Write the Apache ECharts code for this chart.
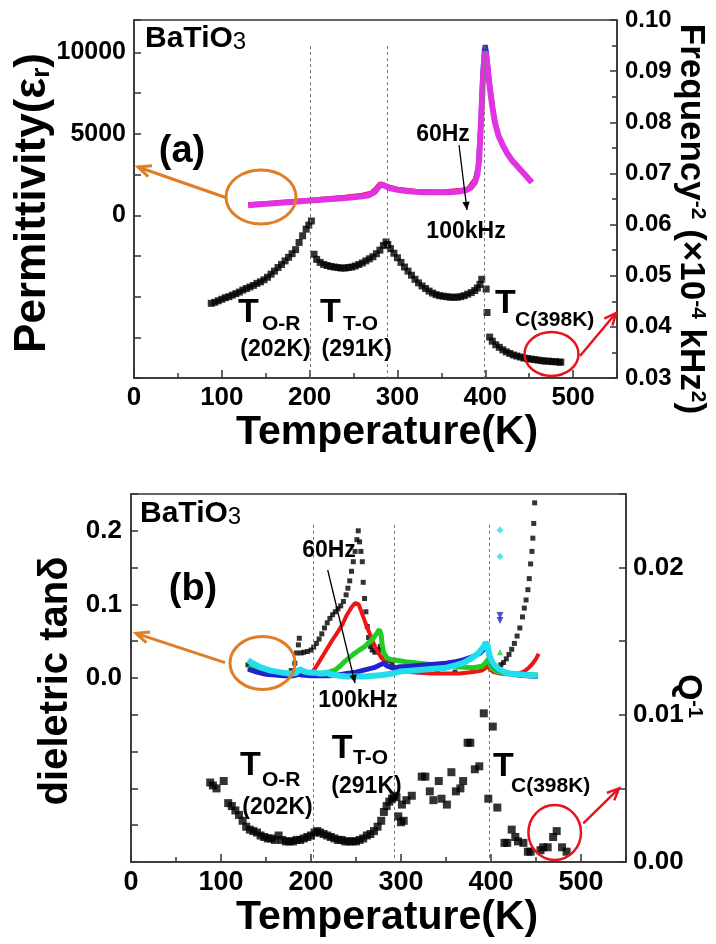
<!DOCTYPE html>
<html><head><meta charset="utf-8">
<script src="https://cdn.jsdelivr.net/npm/echarts@6/dist/echarts.min.js"></script>
<style>html,body{margin:0;padding:0;background:#fff}#c{width:716px;height:944px}</style>
</head><body><div id="c"></div>
<script>
const FONT = 'Liberation Sans, Arial, Helvetica, sans-serif';

// ---------- panel (a) data ----------
const permRed = [[130,640],[160,760],[200,930],[220,1010],[240,1110],[260,1230],[270,1350],[276,1650],[280,1920],[284,1880],[290,1740],[300,1600],[320,1470],[350,1430],[380,1570],[390,2300]];
const permBlue = [[388,2000],[392,3000],[395,5800],[397,8600],[399,10200],[400,10450],[401,10150],[403,9100],[405,8000],[408,6800]];
const permMagenta = [[130,620],[140,660],[150,700],[160,740],[170,780],[180,820],[190,860],[200,900],[210,940],[220,980],[230,1020],[240,1060],[250,1110],[260,1170],[268,1250],[274,1420],[278,1700],[281,1900],[284,1850],[288,1750],[292,1650],[300,1560],[310,1490],[320,1450],[330,1420],[340,1410],[350,1410],[360,1420],[370,1460],[378,1550],[384,1720],[388,2000],[391,2500],[393,3400],[395,5500],[397,8000],[399,9800],[400,10050],[401,9800],[403,8900],[405,7900],[408,6700],[411,5700],[415,4900],[420,4300],[425,3800],[430,3400],[435,3100],[440,2800],[445,2500],[450,2200],[453,2000]];
const freqInvSq = [
 [88,0.0446],[92,0.0448],[96,0.0451],[100,0.0454],[104,0.0457],[108,0.0459],[112,0.0462],[116,0.0465],[120,0.0468],[124,0.0472],[128,0.0475],[132,0.0478],[136,0.0481],[140,0.0485],[144,0.0488],[148,0.0492],[152,0.0497],[156,0.0503],[160,0.0509],[164,0.0516],[168,0.0522],[172,0.0529],[176,0.0536],[180,0.0543],[184,0.0551],[188,0.0565],[192,0.0578],[196,0.0591],[199,0.0599],[202,0.0607],
 [205,0.0542],[208,0.0532],[212,0.0526],[216,0.0522],[220,0.0520],[224,0.0518],[228,0.0517],[232,0.0516],[236,0.0515],[240,0.0515],[244,0.0516],[248,0.0517],[252,0.0519],[256,0.0522],[260,0.0525],[264,0.0529],[268,0.0533],[272,0.0537],[276,0.0543],[280,0.0550],[284,0.0559],[287,0.0566],
 [289,0.0561],[292,0.0553],[296,0.0544],[300,0.0535],[304,0.0526],[308,0.0517],[312,0.0509],[316,0.0501],[320,0.0493],[324,0.0486],[328,0.0480],[332,0.0475],[336,0.0470],[340,0.0466],[344,0.0463],[348,0.0461],[352,0.0460],[356,0.0459],[360,0.0458],[364,0.0458],[368,0.0458],[372,0.0459],[376,0.0461],[380,0.0464],[384,0.0467],[388,0.0471],[391,0.0476],[394,0.0483],[396,0.0493],
 [401,0.0474],[402,0.0428],[405,0.0380],[408,0.0372],[412,0.0365],[416,0.0360],[420,0.0355],[424,0.0351],[428,0.0348],[432,0.0345],[436,0.0343],[440,0.0341],[444,0.0339],[448,0.0338],[452,0.0337],[456,0.0336],[460,0.0335],[464,0.0334],[468,0.0333],[472,0.0333],[476,0.0332],[480,0.0332],[484,0.0331],[486,0.0331]
];
const linesTopT = [201, 288, 398.5];

// ---------- panel (b) data ----------
const tanBlack = [[130,0.018],[140,0.012],[150,0.008],[160,0.006],[170,0.006],[178,0.010],[182,0.020],[184,0.034],[186,0.045],[187,0.054],[189,0.034],[192,0.035],[196,0.036],[200,0.038],[203,0.042],[206,0.047],[209,0.053],[212,0.060],[215,0.068],[218,0.075],[221,0.081],[224,0.086],[227,0.090],[230,0.094],[233,0.098],[236,0.104],[239,0.113],[241,0.122],[243,0.132],[245,0.145],[247,0.158],[249,0.172],[251,0.188],[252.5,0.200],[254,0.185],[255.5,0.172],[257,0.158],[258,0.130],[259.5,0.108],[261,0.090],[262.5,0.070],[264,0.055],[266,0.043],[268,0.038],[271,0.035],[274,0.038],[277,0.043],[279,0.038],[282,0.030],[286,0.024],[290,0.020],[300,0.015],[320,0.010],[340,0.008],[360,0.008],[380,0.010],[395,0.020],[400,0.012],[405,0.012],[408,0.014],[411,0.018],[414,0.021],[417,0.026],[420,0.032],[423,0.039],[426,0.047],[429,0.057],[432,0.068],[435,0.083],[437,0.095],[439,0.106],[441,0.120],[442.5,0.135],[444,0.155],[445.5,0.172],[446.5,0.190],[447.5,0.210],[448.5,0.238]];
const tanRed = [[130,0.014],[140,0.009],[150,0.006],[160,0.004],[170,0.004],[180,0.004],[190,0.004],[200,0.006],[205,0.014],[210,0.024],[215,0.034],[220,0.044],[225,0.054],[230,0.063],[235,0.073],[240,0.086],[245,0.096],[249,0.102],[253,0.100],[256,0.090],[259,0.080],[262,0.070],[266,0.058],[270,0.046],[274,0.036],[278,0.028],[282,0.022],[286,0.016],[292,0.012],[300,0.010],[310,0.008],[320,0.007],[335,0.006],[350,0.006],[365,0.006],[380,0.008],[390,0.010],[395,0.014],[397,0.018],[399,0.012],[403,0.008],[410,0.006],[420,0.005],[430,0.006],[437,0.009],[442,0.014],[446,0.019],[450,0.026],[453,0.033]];
const tanGreen = [[130,0.015],[140,0.010],[150,0.007],[160,0.005],[170,0.004],[180,0.004],[190,0.005],[200,0.005],[210,0.006],[220,0.008],[227,0.011],[233,0.017],[238,0.023],[244,0.029],[249,0.034],[255,0.039],[260,0.043],[264,0.048],[268,0.052],[271,0.057],[274,0.062],[276,0.066],[278,0.058],[279,0.045],[281,0.034],[284,0.028],[288,0.025],[295,0.024],[305,0.022],[320,0.020],[335,0.018],[350,0.017],[365,0.015],[380,0.014],[390,0.016],[395,0.022],[397,0.026],[399,0.018],[402,0.012],[408,0.008],[420,0.006],[435,0.005],[452,0.004]];
const tanBlue = [[130,0.012],[140,0.008],[150,0.005],[160,0.004],[170,0.003],[180,0.003],[186,0.005],[190,0.004],[200,0.003],[210,0.003],[220,0.003],[230,0.004],[240,0.006],[250,0.008],[260,0.011],[270,0.014],[277,0.018],[281,0.020],[285,0.016],[290,0.014],[300,0.015],[310,0.016],[320,0.017],[330,0.018],[340,0.019],[350,0.020],[360,0.022],[370,0.025],[380,0.029],[388,0.034],[393,0.040],[396,0.043],[398,0.030],[401,0.020],[405,0.014],[410,0.010],[420,0.006],[430,0.004],[440,0.003],[452,0.002]];
const tanCyan = [[130,0.024],[135,0.020],[140,0.017],[145,0.014],[150,0.012],[155,0.010],[160,0.009],[165,0.008],[170,0.007],[175,0.006],[180,0.006],[184,0.007],[187,0.012],[190,0.010],[195,0.008],[200,0.007],[205,0.007],[210,0.006],[215,0.006],[218,0.008],[221,0.005],[226,0.004],[232,0.003],[240,0.002],[250,0.002],[260,0.002],[270,0.003],[280,0.004],[290,0.006],[300,0.009],[310,0.010],[320,0.011],[330,0.012],[340,0.013],[350,0.014],[360,0.017],[370,0.021],[380,0.028],[386,0.034],[391,0.041],[394,0.048],[396,0.045],[398,0.032],[401,0.022],[405,0.016],[410,0.011],[415,0.008],[420,0.006],[430,0.005],[440,0.004],[452,0.003]];
const outGreen = [[410,0.035]];
const outBlue = [[410,0.085],[410,0.078]];
const outCyan = [[410,0.201],[410,0.165]];
const qInv = [[88,0.0054],[91,0.0052],[95,0.0050],[103,0.0055],[108,0.0040],[112,0.0038],[116,0.0035],[120,0.0032],[124,0.0028],[128,0.0024],[132,0.0022],[136,0.0021],[140,0.0020],[144,0.0018],[148,0.0017],[152,0.0016],[156,0.0016],[160,0.0015],[164,0.0018],[168,0.0015],[172,0.0014],[176,0.0014],[180,0.0014],[184,0.0015],[188,0.0015],[192,0.0016],[196,0.0017],[200,0.0018],[204,0.0020],[207,0.0021],[210,0.0020],[214,0.0019],[218,0.0018],[222,0.0017],[226,0.0016],[230,0.0015],[234,0.0015],[238,0.0014],[242,0.0014],[246,0.0014],[250,0.0014],[254,0.0015],[258,0.0016],[262,0.0018],[266,0.0019],[270,0.0021],[274,0.0024],[278,0.0028],[281,0.0034],[284,0.0038],[287,0.0041],[290,0.0043],[292,0.0045],[295,0.0044],[297,0.0031],[300,0.0027],[301,0.0039],[303,0.0028],[306,0.0042],[312,0.0045],[323,0.0058],[327,0.0058],[332,0.0048],[336,0.0042],[342,0.0055],[345,0.0043],[351,0.0039],[356,0.0061],[361,0.0048],[366,0.0050],[369,0.0055],[374,0.0081],[377,0.0081],[382,0.0063],[387,0.0065],[392,0.0101],[397,0.0043],[402,0.0092],[407,0.0037],[415,0.0013],[418,0.0013],[423,0.0022],[427,0.0017],[430,0.0014],[436,0.0013],[441,0.0007],[444,0.0007],[455,0.0008],[458,0.0010],[463,0.0010],[469,0.0017],[473,0.0021],[479,0.0010],[484,0.0007]];
const linesBotT = [202, 292, 398.5];

// ---------- helpers ----------
const AX = '#333';
function xAx(grid, fs, margin, nameGap, pad) {
  return {gridIndex: grid, type: 'value', min: 0, max: 550, interval: 100,
    name: 'Temperature(K)', nameLocation: 'middle', nameGap: nameGap,
    nameTextStyle: {fontFamily: FONT, fontWeight: 'bold', fontSize: 41, color: '#000', padding: [0, 0, 0, pad]},
    axisLine: {onZero: false, lineStyle: {color: AX, width: 1.5}},
    axisTick: {inside: true, length: 8, lineStyle: {color: AX, width: 1.5}},
    minorTick: {show: true, splitNumber: 2, length: 5, lineStyle: {color: AX, width: 1.5}},
    splitLine: {show: false},
    axisLabel: {fontFamily: FONT, fontWeight: 'bold', fontSize: fs, color: '#000', margin: margin,
      formatter: v => (v % 100 === 0 && v <= 500) ? String(v) : ''}};
}
function yAx(grid, pos, min, max, interval, fs, margin, fmt, minor) {
  return {gridIndex: grid, type: 'value', position: pos, min: min, max: max, interval: interval,
    axisLine: {show: true, onZero: false, lineStyle: {color: AX, width: 1.5}},
    axisTick: {show: true, inside: true, length: 7, lineStyle: {color: AX, width: 1.5}},
    minorTick: {show: !!minor, splitNumber: 2, length: 5, lineStyle: {color: AX, width: 1.5}},
    splitLine: {show: false},
    axisLabel: {fontFamily: FONT, fontWeight: 'bold', fontSize: fs, color: '#000', margin: margin, formatter: fmt}};
}
function near(a, b) { return Math.abs(a - b) < 1e-9; }
function ellipse(cx, cy, rx, ry, color, w) {
  return {type: 'ellipse', shape: {cx: cx, cy: cy, rx: rx, ry: ry}, style: {fill: 'none', stroke: color, lineWidth: w}, z: 100};
}
function arrow(x1, y1, x2, y2, color, w, head, filled) {
  const a = Math.atan2(y2 - y1, x2 - x1), s = 0.42;
  const p1 = [x2 - head * Math.cos(a - s), y2 - head * Math.sin(a - s)];
  const p2 = [x2 - head * Math.cos(a + s), y2 - head * Math.sin(a + s)];
  const els = [{type: 'line', shape: {x1: x1, y1: y1, x2: x2, y2: y2}, style: {stroke: color, lineWidth: w}, z: 100}];
  if (filled) els.push({type: 'polygon', shape: {points: [[x2, y2], p1, p2]}, style: {fill: color}, z: 100});
  else els.push({type: 'polyline', shape: {points: [p1, [x2, y2], p2]}, style: {stroke: color, lineWidth: w, fill: 'none'}, z: 100});
  return els;
}
function txt(x, y, s, fs, align, weight) {
  return {type: 'text', x: x, y: y, z: 100, style: {text: s, fontFamily: FONT, fontWeight: weight || 'bold', fontSize: fs, fill: '#000', align: align || 'center', verticalAlign: 'middle'}};
}
function rich(x, y, rot, s, r) {
  return {type: 'text', x: x, y: y, rotation: rot, z: 100, style: {text: s, rich: r, align: 'center', verticalAlign: 'middle', fontFamily: FONT, fill: '#000'}};
}
function rs(fs, va, weight) { return {fontFamily: FONT, fontWeight: weight || 'bold', fontSize: fs, lineHeight: fs, fill: '#000', verticalAlign: va || 'middle'}; }
function vlines(ts, yTop, yBot) {
  return {silent: true, symbol: ['none', 'none'], label: {show: false},
    lineStyle: {type: [3, 3], color: '#777', width: 1},
    data: ts.map(t => [{coord: [t, yTop]}, {coord: [t, yBot]}])};
}

const chart = echarts.init(document.getElementById('c'));
const lineS = (xi, yi, data, color, w, z) => ({type: 'line', xAxisIndex: xi, yAxisIndex: yi, data: data, symbol: 'none', lineStyle: {color: color, width: w}, z: z || 2});

const graphics = [].concat(
  // panel a
  [rich(145, 39, 0, '{m|BaTiO}{s|3}', {m: rs(30, 'middle'), s: rs(24, 'bottom', 'normal')})].map(e => (e.style.align = 'left', e)),
  [txt(182, 152, '(a)', 38)],
  [ellipse(261, 197, 35, 27, '#E07E25', 3)],
  arrow(227, 198, 138, 167, '#E07E25', 3, 14, false),
  [ellipse(551.5, 354, 27, 22, '#E8141B', 2.5)],
  arrow(580, 356, 616, 313, '#E8141B', 2.5, 13, false),
  [txt(443, 135, '60Hz', 23), txt(466, 232, '100kHz', 23)],
  arrow(459, 145, 467, 210, '#000', 1.3, 9, true),
  [txt(238, 313, 'T', 34, 'left'), txt(262, 324, 'O-R', 21, 'left'), txt(275.5, 350, '(202K)', 23)],
  [txt(320, 313, 'T', 34, 'left'), txt(343, 324, 'T-O', 21, 'left'), txt(356.7, 350, '(291K)', 23)],
  [txt(495, 304, 'T', 34, 'left'), txt(515, 320, 'C(398K)', 21, 'left')],
  [rich(33, 203, Math.PI / 2, '{m|Permittivity(ε}{s|r}{m|)}', {m: rs(44), s: rs(26, 'bottom')})],
  [rich(691, 219, -Math.PI / 2, '{m|Frequency}{s|-2}{m| (×10}{s|-4}{m| kHz}{s|2}{m|)}', {m: rs(35), s: rs(21, 'top')})],
  // panel b
  [rich(140, 514, 0, '{m|BaTiO}{s|3}', {m: rs(30, 'middle'), s: rs(24, 'bottom', 'normal')})].map(e => (e.style.align = 'left', e)),
  [txt(193, 590, '(b)', 38)],
  [ellipse(262.5, 663, 32.5, 26.5, '#E07E25', 3)],
  arrow(225, 662.7, 136, 633.3, '#E07E25', 3, 14, false),
  [ellipse(554.7, 832.5, 26.3, 27.5, '#E8141B', 2.5)],
  arrow(583.3, 823.3, 619, 788.3, '#E8141B', 2.5, 13, false),
  [txt(329, 551, '60Hz', 23), txt(358, 700.5, '100kHz', 23)],
  arrow(327.7, 570, 355, 683, '#000', 1.3, 9, true),
  [txt(240, 766, 'T', 34, 'left'), txt(262, 780, 'O-R', 21, 'left'), txt(277.5, 808, '(202K)', 23)],
  [txt(331.7, 749, 'T', 34, 'left'), txt(353, 758, 'T-O', 21, 'left'), txt(366.5, 786.7, '(291K)', 23)],
  [txt(493, 767, 'T', 34, 'left'), txt(511, 786, 'C(398K)', 21, 'left')],
  [rich(56, 681, Math.PI / 2, '{m|dieletric tanδ}', {m: rs(40)})],
  [rich(688, 696, -Math.PI / 2, '{m|Q}{s|-1}', {m: rs(34), s: rs(20, 'top')})]
);

chart.setOption({
  animation: false,
  backgroundColor: '#fff',
  grid: [
    {left: 134, top: 20, width: 483, height: 358, show: true, borderColor: AX, borderWidth: 1.5, backgroundColor: 'transparent'},
    {left: 131, top: 494, width: 495, height: 368, show: true, borderColor: AX, borderWidth: 1.5, backgroundColor: 'transparent'}
  ],
  xAxis: [xAx(0, 26, 7, 34, 23), xAx(1, 27, 7, 29, 17)],
  yAxis: [
    yAx(0, 'left', -10000, 12000, 2500, 25, 8, v => (near(v, 0) || near(v, 5000) || near(v, 10000)) ? String(v) : '', false),
    yAx(0, 'right', 0.03, 0.10, 0.01, 24, 8, v => v.toFixed(2), true),
    yAx(1, 'left', -0.25, 0.25, 0.05, 26, 9, v => { const k = Math.round(v * 100); return (k >= 0 && k % 10 === 0) ? (k / 100).toFixed(1) : ''; }, false),
    yAx(1, 'right', 0, 0.025, 0.005, 26, 7, v => { const k = Math.round(v * 1000); return (k % 10 === 0) ? (k / 1000).toFixed(2) : ''; }, false)
  ],
  series: [
    lineS(0, 0, permRed, '#E81818', 5, 2),
    lineS(0, 0, permBlue, '#2A3AC0', 5, 2),
    Object.assign(lineS(0, 0, permMagenta, '#E233E2', 6, 3), {markLine: vlines(linesTopT, 10400, -10000)}),
    {type: 'scatter', xAxisIndex: 0, yAxisIndex: 1, data: freqInvSq, symbol: 'rect', symbolSize: 7, itemStyle: {color: '#000'}, z: 4},
    Object.assign({type: 'scatter', xAxisIndex: 1, yAxisIndex: 2, data: tanBlack, symbol: 'rect', symbolSize: 5, itemStyle: {color: '#000'}, z: 2}, {markLine: vlines(linesBotT, 0.208, -0.25)}),
    lineS(1, 2, tanRed, '#EE1515', 4, 3),
    lineS(1, 2, tanGreen, '#22CC22', 5, 4),
    lineS(1, 2, tanBlue, '#2222CC', 5, 5),
    lineS(1, 2, tanCyan, '#22DDEE', 6, 6),
    {type: 'scatter', xAxisIndex: 1, yAxisIndex: 2, data: outGreen, symbol: 'triangle', symbolSize: 6, itemStyle: {color: '#22CC22'}, z: 6},
    {type: 'scatter', xAxisIndex: 1, yAxisIndex: 2, data: outBlue, symbol: 'triangle', symbolSize: 7, symbolRotate: 180, itemStyle: {color: '#2222CC'}, z: 6},
    {type: 'scatter', xAxisIndex: 1, yAxisIndex: 2, data: outCyan, symbol: 'diamond', symbolSize: 7, itemStyle: {color: '#22DDEE'}, z: 6},
    {type: 'scatter', xAxisIndex: 1, yAxisIndex: 3, data: qInv, symbol: 'rect', symbolSize: 8, itemStyle: {color: '#000'}, z: 7}
  ],
  graphic: graphics
});
</script></body></html>
